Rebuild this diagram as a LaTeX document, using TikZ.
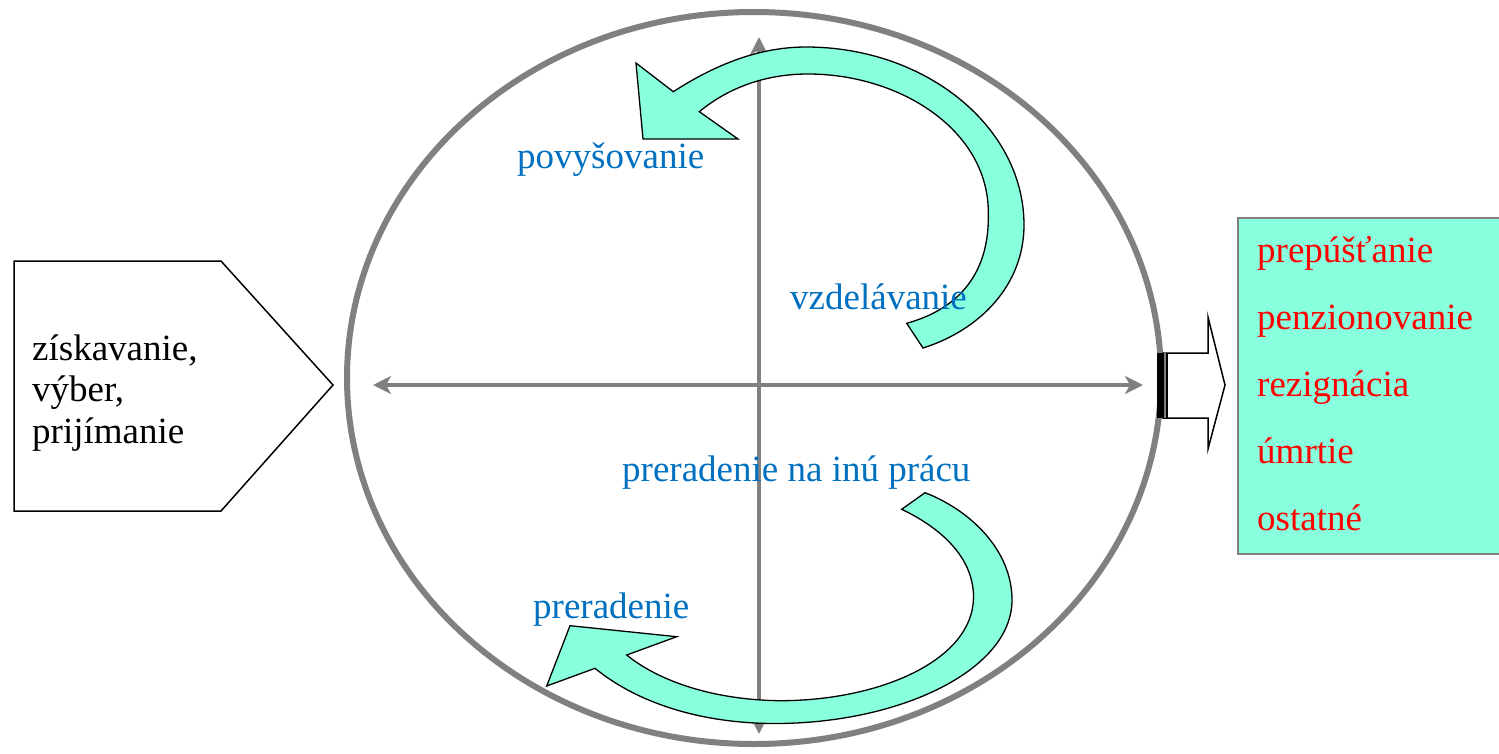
\documentclass[tikz,border=0pt]{standalone}
\usepackage{fontspec}
\setmainfont{Liberation Serif}
\usepackage{xcolor}
\usetikzlibrary{arrows.meta}
\definecolor{turq}{HTML}{88FFDD}
\definecolor{moveblue}{HTML}{0070C0}
\definecolor{ringgray}{HTML}{808080}

\begin{document}
\begin{tikzpicture}[
    x=1pt, y=-1pt,
    >={Stealth[length=18pt, width=18pt, inset=5pt]},
    ring/.style={draw=ringgray, line width=6pt},
    axis/.style={draw=ringgray, line width=4pt, <->},
    curvedarrow/.style={fill=turq, draw=black, line width=1.3pt, line join=miter},
    move/.style={font=\fontsize{37}{44}\selectfont, text=moveblue, anchor=base west, inner sep=0pt},
    stage/.style={font=\fontsize{37}{44}\selectfont, anchor=base west, inner sep=0pt},
    leave/.style={font=\fontsize{37}{44}\selectfont, text=red, anchor=base west, inner sep=0pt},
    outbox/.style={rectangle, draw=ringgray, line width=2pt, fill=turq, anchor=north west, minimum width=270pt, minimum height=336pt},
]
\useasboundingbox (0,0) rectangle (1499,753);

% --- cycle ring and axes ---
\draw[ring] (754,378) ellipse [x radius=407pt, y radius=366pt];
\coordinate (west) at (373,385);
\coordinate (east) at (1143,385);
\coordinate (north) at (759,37);
\coordinate (south) at (759,734);
\draw[axis] (west) -- (east);
\draw[axis] (north) -- (south);

% --- entry: pentagon ---
\draw[black, line width=1.5pt] (14,261) -- (221,261) -- (333,385) -- (221,511) -- (14,511) -- cycle;
\foreach \word [count=\i] in {{získavanie,},{výber,},prijímanie}
  \node[stage] (in\i) at (32, {318.5+41.5*\i}) {\word};

% --- upper curved arrow ---
\filldraw[curvedarrow] (636,63) -- (673.3,91.7)
  .. controls (710,68) and (755,47) .. (806,47)
  .. controls (926,47) and (1024,127) .. (1024,225)
  .. controls (1024,285) and (980,330) .. (923,348)
  -- (906.7,323.3)
  .. controls (962,308) and (990,270) .. (988.3,212)
  .. controls (988,130) and (900,74) .. (808,74)
  .. controls (765,74) and (728,88) .. (699.3,111.7)
  -- (738,139) -- (643,139) -- cycle;

% --- lower curved arrow ---
\filldraw[curvedarrow] (546.7,686) -- (595,668.3)
  .. controls (640,705) and (705,723.5) .. (775,723.5)
  .. controls (900,723.5) and (1012,670) .. (1012,600)
  .. controls (1012,550) and (970,510) .. (925,492.7)
  -- (901.7,509.3)
  .. controls (945,530) and (973.5,560) .. (973.5,597)
  .. controls (973.5,660) and (880,700.7) .. (780,700.7)
  .. controls (715,700) and (660,682) .. (626.7,655)
  -- (676.7,636.7) -- (570,625.7) -- cycle;

% --- movements inside the cycle ---
\node[move] (promo) at (517,168) {povyšovanie};
\node[move] (train) at (790,309) {vzdelávanie};
\node[move] (other) at (622,481) {preradenie na inú prácu};
\node[move] (trans) at (533,618) {preradenie};

% --- exit arrow and box ---
\filldraw[fill=white, draw=black, line width=1.5pt] (1163,353) -- (1208,353) -- (1208,317) -- (1225,385)
  -- (1208,449) -- (1208,418) -- (1163,418) -- cycle;
\fill[black] (1157,353) rectangle (1168,418);
\draw[ringgray, line width=2pt] (1164.5,353) -- (1164.5,418);
\node[outbox] (out) at (1237,217) {};
\foreach \word [count=\i] in {prepúšťanie,penzionovanie,rezignácia,úmrtie,ostatné}
  \node[leave] (leave\i) at (1257, {195+67*\i}) {\word};

\end{tikzpicture}
\end{document}
